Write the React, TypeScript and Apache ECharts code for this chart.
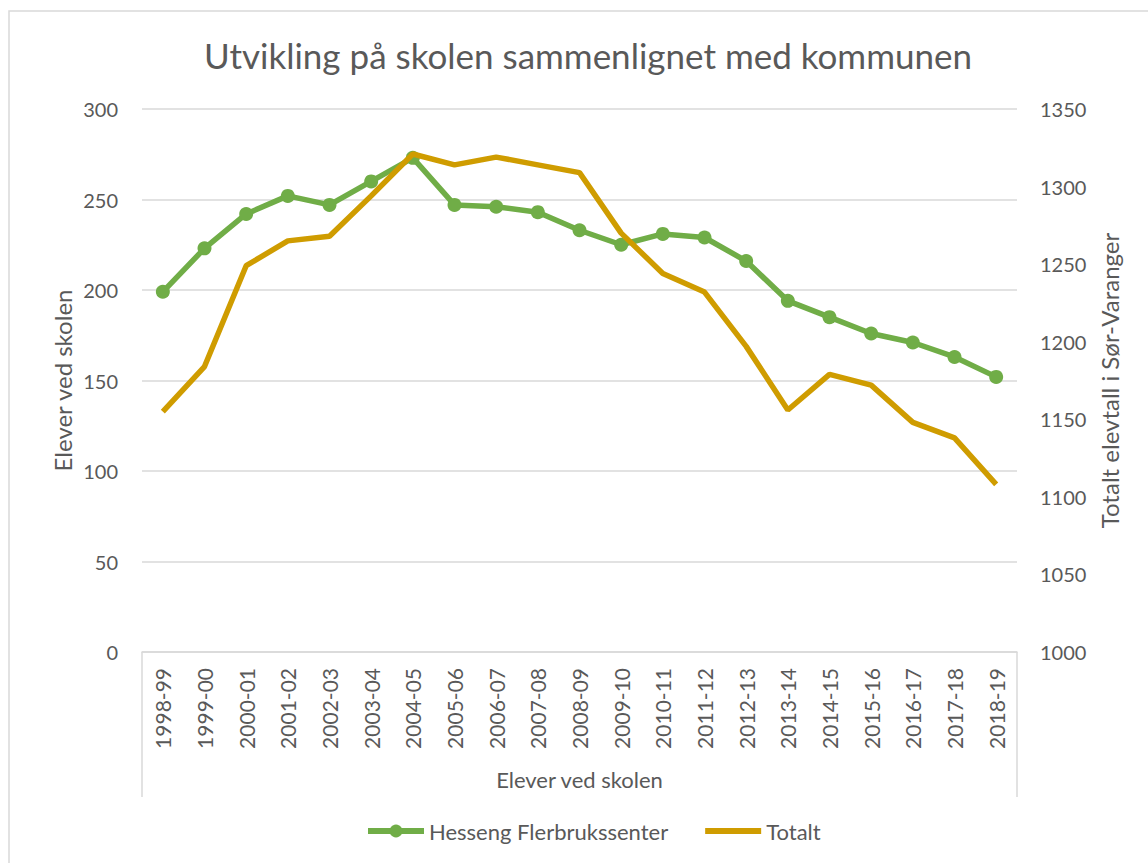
import React, { useEffect, useRef } from "react";
import * as echarts from "echarts";

const categories = [
  "1998-99", "1999-00", "2000-01", "2001-02", "2002-03", "2003-04", "2004-05",
  "2005-06", "2006-07", "2007-08", "2008-09", "2009-10", "2010-11", "2011-12",
  "2012-13", "2013-14", "2014-15", "2015-16", "2016-17", "2017-18", "2018-19",
];
const hessengValues = [
  199, 223, 242, 252, 247, 260, 273, 247, 246, 243, 233, 225, 231, 229, 216, 194, 185, 176, 171, 163, 152,
];
const totaltValues = [
  1155, 1184, 1249, 1265, 1268, 1294, 1321, 1314, 1319, 1314, 1309, 1270, 1244, 1232, 1197, 1156, 1179, 1172, 1148, 1138, 1108,
];
const seriesNames = ["Hesseng Flerbrukssenter", "Totalt"];
const titleText = "Utvikling på skolen sammenlignet med kommunen";
const leftAxisName = "Elever ved skolen";
const rightAxisName = "Totalt elevtall i Sør-Varanger";
const xAxisName = "Elever ved skolen";

const FONT = "Lato";
const TEXT = "#595959";
const GRID = "#d9d9d9";
const GREEN = "#70AD47";
const GOLD = "#CF9C00";

export default function App() {
  const ref = useRef<HTMLDivElement>(null);
  useEffect(() => {
    if (!ref.current) return;
    const chart = echarts.init(ref.current, null, { renderer: "svg" });
    const gridLeft = 142;
    const gridRight = 1017;
    const gridTop = 109;
    const gridBottom = 652;
    chart.setOption({
      animation: false,
      backgroundColor: "#ffffff",
      textStyle: { fontFamily: FONT, color: TEXT },
      title: {
        text: titleText,
        left: 583,
        top: 32,
        textAlign: "center",
        textStyle: { fontFamily: FONT, fontSize: 35, fontWeight: "normal", color: TEXT },
      },
      grid: {
        left: gridLeft,
        right: 1148 - gridRight,
        top: gridTop,
        bottom: 863 - gridBottom,
        containLabel: false,
      },
      legend: {
        data: [
          { name: seriesNames[0] },
          { name: seriesNames[1], icon: "path://M0,0 H56 V6 H0 Z" },
        ],
        bottom: 16,
        left: 360,
        itemWidth: 56,
        itemHeight: 16,
        itemGap: 37,
        lineStyle: { width: 6 },
        textStyle: { fontFamily: FONT, fontSize: 22, color: TEXT },
      },
      xAxis: {
        type: "category",
        data: categories,
        boundaryGap: true,
        name: xAxisName,
        nameLocation: "middle",
        nameGap: 116,
        nameTextStyle: { fontFamily: FONT, fontSize: 22, color: TEXT },
        axisLine: { show: true, lineStyle: { color: GRID, width: 1.5 } },
        axisTick: { show: false },
        axisLabel: {
          rotate: 90,
          margin: 16,
          fontFamily: FONT,
          fontSize: 21,
          color: TEXT,
          interval: 0,
        },
        splitLine: { show: false },
      },
      yAxis: [
        {
          type: "value",
          min: 0,
          max: 300,
          interval: 50,
          position: "left",
          name: leftAxisName,
          nameLocation: "middle",
          nameGap: 68,
          nameRotate: 90,
          nameMoveOverlap: false,
          nameTextStyle: { fontFamily: FONT, fontSize: 24, color: TEXT },
          axisLine: { show: false },
          axisTick: { show: false },
          axisLabel: { margin: 24, fontFamily: FONT, fontSize: 20, color: TEXT },
          splitLine: { show: true, lineStyle: { color: GRID, width: 1.5 } },
        },
        {
          type: "value",
          min: 1000,
          max: 1350,
          interval: 50,
          position: "right",
          name: rightAxisName,
          nameLocation: "middle",
          nameGap: 80,
          nameRotate: 90,
          nameMoveOverlap: false,
          nameTextStyle: { fontFamily: FONT, fontSize: 24, color: TEXT },
          axisLine: { show: false },
          axisTick: { show: false },
          axisLabel: {
            margin: 23,
            fontFamily: FONT,
            fontSize: 20,
            color: TEXT,
            formatter: (v: number) => String(v),
          },
          splitLine: { show: false },
        },
      ],
      series: [
        {
          name: seriesNames[0],
          type: "line",
          yAxisIndex: 0,
          data: hessengValues,
          symbol: "circle",
          symbolSize: 14,
          showSymbol: true,
          itemStyle: { color: GREEN },
          lineStyle: { color: GREEN, width: 5.5 },
          z: 2,
        },
        {
          name: seriesNames[1],
          type: "line",
          yAxisIndex: 1,
          data: totaltValues,
          symbol: "none",
          showSymbol: false,
          itemStyle: { color: GOLD },
          lineStyle: { color: GOLD, width: 5.5 },
          z: 3,
        },
      ],
      graphic: [
        {
          type: "rect",
          shape: { x: 9, y: 11, width: 1200, height: 900 },
          style: { fill: "none", stroke: GRID, lineWidth: 1.5 },
          silent: true,
          z: -1,
        },
        {
          type: "line",
          shape: { x1: gridLeft, y1: gridBottom, x2: gridLeft, y2: 797 },
          style: { stroke: GRID, lineWidth: 1.5 },
          silent: true,
        },
        {
          type: "line",
          shape: { x1: gridRight, y1: gridBottom, x2: gridRight, y2: 797 },
          style: { stroke: GRID, lineWidth: 1.5 },
          silent: true,
        },
      ],
    });
    return () => chart.dispose();
  }, []);
  return (
    <div
      ref={ref}
      style={{ position: "absolute", left: 0, top: 0, width: 1148, height: 863 }}
    />
  );
}
